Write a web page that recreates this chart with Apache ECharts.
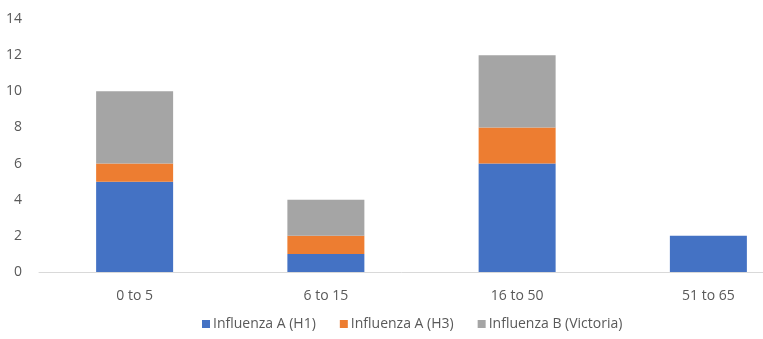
<!DOCTYPE html>
<html>
<head>
<meta charset="utf-8">
<script src="https://cdn.jsdelivr.net/npm/echarts@6/dist/echarts.min.js"></script>
<style>
  html, body { margin: 0; padding: 0; background: #fff; }
  #chart { width: 763px; height: 339px; }
</style>
</head>
<body>
<div id="chart"></div>
<script>
// Age groups and case counts per influenza strain
const categories = ['0 to 5', '6 to 15', '16 to 50', '51 to 65'];
const h1 = [5, 1, 6, 2];
const h3 = [1, 1, 2, 0];
const victoria = [4, 2, 4, 0];
const yTicks = { min: 0, max: 14, interval: 2 };

const font = '"Open Sans", sans-serif';
const chart = echarts.init(document.getElementById('chart'), null, { renderer: 'canvas' });

function stackSeries(name, data, color) {
  return {
    name, type: 'bar', stack: 'total', data,
    barWidth: 77,
    itemStyle: { color },
    emphasis: { disabled: true }
  };
}

chart.setOption({
  animation: false,
  textStyle: { fontFamily: font },
  grid: { left: 39, width: 765, top: 19, bottom: 67, outerBoundsMode: 'none', containLabel: false },
  legend: {
    bottom: 3,
    left: 197,
    itemWidth: 8,
    itemHeight: 8,
    itemGap: 24,
    icon: 'rect',
    textStyle: { color: '#595959', fontSize: 14, fontFamily: font, padding: [0, 0, 0, -2] },
    data: ['Influenza A (H1)', 'Influenza A (H3)', 'Influenza B (Victoria)']
  },
  xAxis: {
    type: 'category',
    data: categories,
    axisLine: { lineStyle: { color: '#D9D9D9', width: 1 } },
    axisTick: { show: false },
    axisLabel: { color: '#595959', fontSize: 14, margin: 17, fontFamily: font }
  },
  yAxis: {
    type: 'value',
    min: yTicks.min, max: yTicks.max, interval: yTicks.interval,
    axisLine: { show: false },
    axisTick: { show: false },
    splitLine: { show: false },
    axisLabel: { color: '#595959', fontSize: 14, margin: 17, fontFamily: font }
  },
  series: [
    stackSeries('Influenza A (H1)', h1, '#4472C4'),
    stackSeries('Influenza A (H3)', h3, '#ED7D31'),
    stackSeries('Influenza B (Victoria)', victoria, '#A5A5A5')
  ]
});
</script>
</body>
</html>
